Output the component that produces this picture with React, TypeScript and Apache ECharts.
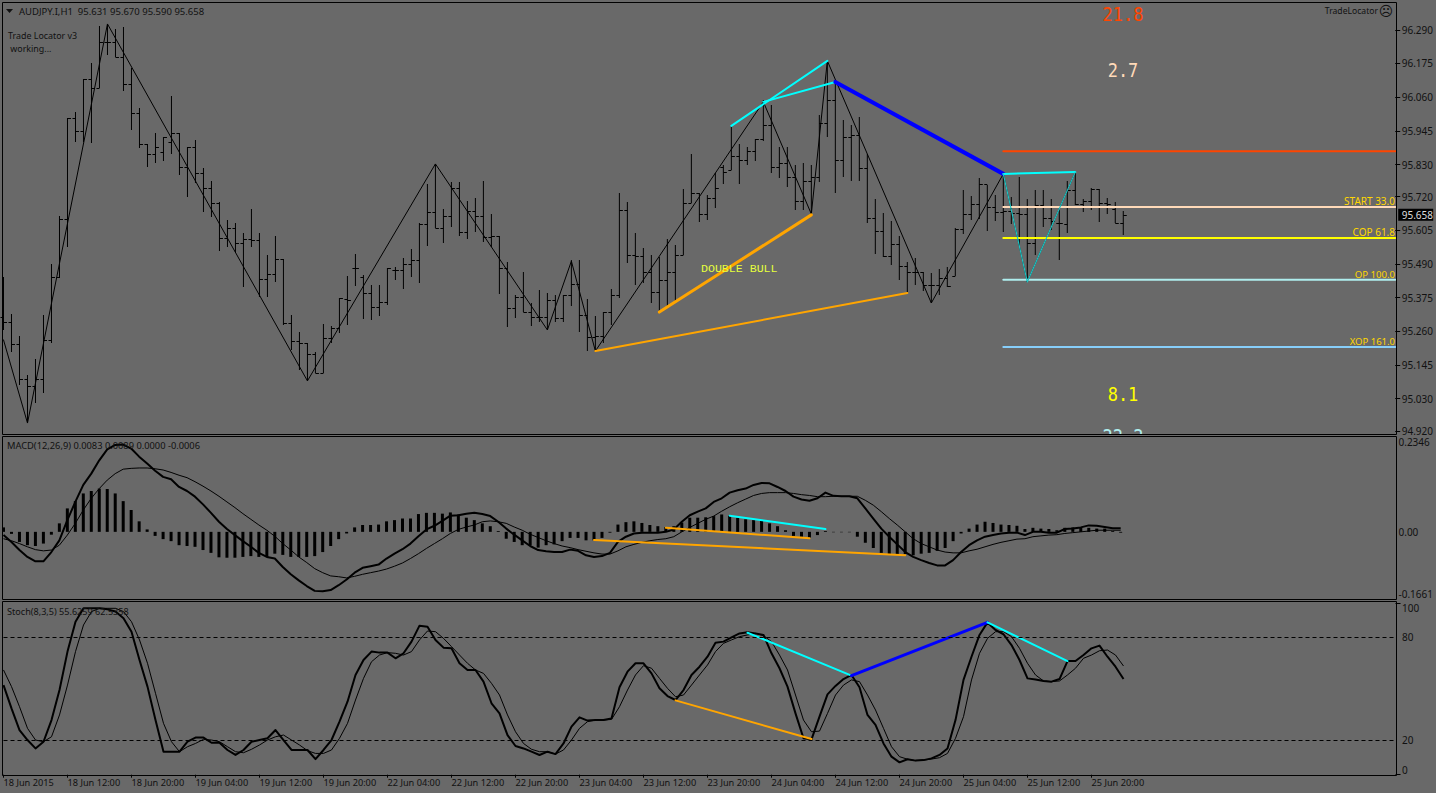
import React, { useEffect, useRef } from "react";
import * as echarts from "echarts";

const xTickLabels = ["18 Jun 2015","18 Jun 12:00","18 Jun 20:00","19 Jun 04:00","19 Jun 12:00","19 Jun 20:00","22 Jun 04:00","22 Jun 12:00","22 Jun 20:00","23 Jun 04:00","23 Jun 12:00","23 Jun 20:00","24 Jun 04:00","24 Jun 12:00","24 Jun 20:00","25 Jun 04:00","25 Jun 12:00","25 Jun 20:00"];
const priceTicks = [94.92,95.03,95.145,95.26,95.375,95.49,95.605,95.72,95.83,95.945,96.06,96.175,96.29];

const closes = [95.292,95.217,95.097,95.073,95.097,95.231,95.446,95.644,95.989,95.945,96.122,96.091,96.249,96.249,96.197,96.105,96.006,95.900,95.866,95.890,95.924,95.938,95.822,95.890,95.801,95.750,95.699,95.579,95.613,95.562,95.576,95.572,95.439,95.456,95.507,95.289,95.227,95.220,95.183,95.118,95.237,95.272,95.374,95.367,95.477,95.391,95.343,95.360,95.477,95.470,95.490,95.504,95.627,95.668,95.613,95.654,95.750,95.599,95.671,95.654,95.582,95.586,95.477,95.340,95.377,95.326,95.309,95.309,95.367,95.306,95.384,95.422,95.316,95.241,95.244,95.326,95.384,95.675,95.521,95.518,95.463,95.395,95.436,95.463,95.521,95.699,95.733,95.661,95.716,95.750,95.804,95.859,95.845,95.876,95.917,95.965,95.822,95.835,95.787,95.705,95.774,95.787,95.972,96.050,95.845,95.924,95.931,95.818,95.647,95.603,95.518,95.559,95.483,95.463,95.463,95.418,95.418,95.442,95.415,95.610,95.661,95.695,95.763,95.685,95.668,95.671,95.664,95.661,95.562,95.692,95.647,95.637,95.630,95.743,95.695,95.705,95.746,95.699,95.695,95.630,95.658];
const opens = [95.310,95.292,95.217,95.097,95.073,95.097,95.231,95.446,95.644,95.989,95.945,96.122,96.091,96.249,96.249,96.197,96.105,96.006,95.900,95.866,95.873,95.907,95.938,95.822,95.890,95.801,95.750,95.699,95.579,95.613,95.562,95.576,95.572,95.439,95.456,95.507,95.289,95.227,95.220,95.183,95.118,95.237,95.272,95.371,95.477,95.446,95.391,95.343,95.360,95.470,95.470,95.490,95.504,95.627,95.668,95.613,95.654,95.750,95.599,95.671,95.654,95.582,95.586,95.477,95.340,95.377,95.326,95.309,95.309,95.367,95.306,95.384,95.422,95.316,95.241,95.244,95.326,95.384,95.675,95.521,95.518,95.463,95.395,95.436,95.463,95.521,95.699,95.733,95.661,95.716,95.822,95.811,95.859,95.845,95.876,95.917,95.965,95.822,95.835,95.787,95.705,95.774,95.787,95.972,96.050,95.845,95.924,95.931,95.818,95.647,95.603,95.518,95.559,95.483,95.463,95.463,95.418,95.418,95.442,95.449,95.610,95.661,95.695,95.763,95.685,95.668,95.671,95.664,95.661,95.562,95.692,95.647,95.630,95.627,95.743,95.695,95.705,95.746,95.699,95.678,95.631];
const highs = [95.446,95.319,95.244,95.111,95.166,95.316,95.490,95.654,95.989,96.009,96.122,96.177,96.303,96.310,96.293,96.300,96.160,96.023,95.900,95.938,95.924,96.064,95.938,95.890,95.914,95.818,95.774,95.702,95.640,95.630,95.596,95.678,95.596,95.521,95.586,95.507,95.316,95.258,95.220,95.190,95.285,95.278,95.374,95.449,95.524,95.453,95.418,95.418,95.477,95.480,95.511,95.541,95.630,95.763,95.832,95.678,95.770,95.770,95.705,95.716,95.774,95.661,95.586,95.497,95.384,95.463,95.357,95.401,95.391,95.384,95.384,95.504,95.504,95.371,95.313,95.326,95.405,95.733,95.702,95.596,95.545,95.521,95.514,95.576,95.555,95.746,95.866,95.733,95.726,95.801,95.828,95.962,95.900,95.890,95.917,96.050,96.033,95.890,95.890,95.828,95.835,95.828,95.999,96.180,96.112,95.982,95.965,95.992,95.866,95.712,95.664,95.637,95.586,95.497,95.511,95.463,95.459,95.473,95.480,95.613,95.743,95.722,95.784,95.760,95.726,95.794,95.719,95.787,95.712,95.743,95.743,95.712,95.675,95.774,95.804,95.712,95.750,95.746,95.716,95.702,95.670];
const lows = [95.265,95.190,95.077,94.950,95.015,95.050,95.220,95.442,95.548,95.907,95.907,95.904,96.091,96.204,96.197,96.081,95.948,95.886,95.822,95.835,95.842,95.866,95.794,95.719,95.767,95.668,95.651,95.535,95.548,95.531,95.412,95.548,95.377,95.377,95.429,95.282,95.196,95.128,95.091,95.118,95.118,95.220,95.254,95.282,95.415,95.302,95.299,95.313,95.350,95.436,95.405,95.446,95.425,95.552,95.613,95.562,95.617,95.586,95.576,95.599,95.565,95.548,95.388,95.275,95.306,95.326,95.278,95.292,95.265,95.292,95.292,95.347,95.258,95.193,95.196,95.220,95.282,95.374,95.494,95.418,95.425,95.357,95.326,95.347,95.357,95.521,95.699,95.634,95.640,95.681,95.763,95.811,95.763,95.828,95.842,95.910,95.801,95.784,95.753,95.675,95.675,95.664,95.770,95.924,95.733,95.787,95.774,95.774,95.630,95.524,95.514,95.487,95.436,95.395,95.418,95.398,95.357,95.384,95.412,95.449,95.593,95.640,95.644,95.603,95.637,95.599,95.627,95.555,95.429,95.521,95.617,95.606,95.504,95.596,95.692,95.668,95.675,95.634,95.661,95.630,95.590];

const zigzag = [[0,95.231],[3,94.947],[13,96.310],[38,95.091],[54,95.832],[68,95.265],[71,95.500],[74,95.193],[95,96.044],[101,95.661],[103,96.184],[116,95.357],[125,95.798],[128,95.429],[134,95.804]];
const zigzagTeal = [[125,95.798],[128,95.429],[134,95.804]];
const orangeThick = [[82,95.326],[101,95.658]];
const orangeLong = [[74,95.193],[113,95.391]];
const cyanUpper = [[91,95.962],[103,96.184]];
const cyanLower = [[95,96.044],[104,96.112]];
const blueDown = [[104,96.112],[125,95.798]];
const cyanTop = [[125,95.798],[134,95.804]];
const levels = [
  { price: 95.875, color: "#FF4500" },
  { price: 95.685, color: "#FFDAB9" },
  { price: 95.579, color: "#FFFF00" },
  { price: 95.436, color: "#AFEEEE" },
  { price: 95.207, color: "#87CEFA" },
];

const macdHist = [.011,-.005,-.025,-.033,-.035,-.029,-.007,.021,.058,.076,.095,.101,.107,.106,.095,.076,.054,.026,.006,-.010,-.018,-.023,-.033,-.035,-.037,-.045,-.052,-.063,-.064,-.064,-.062,-.060,-.062,-.062,-.054,-.057,-.062,-.062,-.062,-.060,-.050,-.035,-.018,-.004,.011,.017,.017,.018,.026,.029,.033,.033,.044,.047,.047,.045,.048,.043,.035,.029,.021,.014,.002,-.017,-.025,-.033,-.033,-.039,-.033,-.031,-.023,-.015,-.015,-.021,-.021,-.015,-.002,.018,.024,.026,.022,.017,.014,.012,.014,.023,.035,.035,.036,.039,.043,.040,.035,.031,.029,.027,.021,.014,.004,-.010,-.012,-.014,-.008,.002,-.001,-.001,-.001,-.012,-.027,-.040,-.052,-.055,-.055,-.055,-.058,-.054,-.052,-.047,-.040,-.023,-.004,.008,.018,.025,.022,.018,.017,.015,.007,.010,.008,.007,.004,.010,.011,.010,.010,.008,.008,.002,-.002];
const macdLine = [-.008,-.025,-.045,-.062,-.073,-.073,-.050,-.021,.029,.074,.116,.144,.177,.204,.215,.216,.206,.186,.169,.151,.136,.130,.111,.101,.087,.068,.047,.025,.007,-.008,-.023,-.037,-.052,-.062,-.066,-.087,-.105,-.120,-.134,-.146,-.147,-.144,-.132,-.118,-.101,-.089,-.085,-.081,-.066,-.054,-.043,-.029,-.011,.006,.015,.027,.040,.041,.045,.047,.044,.039,.025,.008,-.007,-.021,-.035,-.045,-.048,-.050,-.050,-.044,-.047,-.058,-.062,-.060,-.052,-.025,-.012,-.004,-.002,-.002,-.002,0,.006,.025,.041,.050,.058,.074,.083,.097,.103,.107,.116,.121,.120,.111,.101,.087,.080,.077,.083,.097,.089,.088,.088,.083,.058,.033,.008,-.012,-.031,-.050,-.062,-.070,-.077,-.083,-.083,-.070,-.050,-.033,-.021,-.012,-.008,-.004,-.002,-.002,-.008,0,0,-.002,-.002,.007,.008,.011,.016,.015,.012,.009,.009];
const macdSignal = [-.017,-.022,-.029,-.037,-.044,-.047,-.045,-.033,-.008,.021,.054,.083,.107,.128,.144,.155,.157,.158,.158,.156,.153,.147,.140,.134,.124,.113,.101,.088,.074,.060,.045,.031,.017,.004,-.011,-.029,-.045,-.062,-.076,-.091,-.101,-.109,-.111,-.114,-.110,-.105,-.101,-.097,-.092,-.085,-.077,-.066,-.054,-.041,-.029,-.017,-.004,.006,.012,.017,.025,.027,.025,.021,.012,.004,-.006,-.014,-.022,-.029,-.035,-.039,-.044,-.048,-.052,-.055,-.055,-.047,-.037,-.031,-.026,-.022,-.019,-.017,-.012,0,.011,.021,.031,.039,.051,.062,.072,.081,.090,.095,.097,.097,.097,.095,.092,.090,.087,.087,.088,.088,.088,.088,.078,.066,.050,.033,.017,0,-.017,-.029,-.037,-.045,-.050,-.052,-.052,-.047,-.043,-.037,-.031,-.026,-.022,-.018,-.017,-.012,-.010,-.008,-.007,-.004,-.002,0,.002,.004,.004,.004,.004];
const macdOrangeLong = [[74,-.020],[113,-.058]];
const macdOrangeShort = [[83,.010],[101,-.016]];
const macdCyan = [[91,.040],[103,.007]];
const macdTicks = [-0.1661,0,0.2346];

const stochMain = [52.2,38.6,26.0,20.2,15.3,19.2,31.8,49.3,71.7,89.1,96.9,96.9,96.9,96.3,95.0,91.1,83.3,66.8,51.3,31.8,13.4,13.4,13.4,19.2,21.6,21.6,18.6,18.6,14.4,11.5,14.4,19.2,20.2,21.2,26.0,20.2,14.4,14.4,14.4,9.1,14.4,20.2,30.9,42.5,58.1,66.8,71.7,71.1,71.1,67.8,70.7,77.5,86.8,86.2,78.5,74.0,73.6,64.9,61.0,61.0,54.2,41.6,35.7,23.1,16.7,15.3,13.4,11.5,13.4,12.0,18.2,28.0,33.4,31.5,31.8,31.8,32.8,50.9,60.0,64.9,64.9,59.0,50.3,45.8,43.5,49.3,58.1,62.9,68.7,76.9,77.5,80.0,82.3,82.9,82.3,81.4,70.7,62.0,51.3,35.7,21.2,20.6,33.8,46.8,51.7,55.7,58.1,50.9,34.8,29.0,18.2,10.5,7.2,9.0,8.2,8.5,9.5,11.5,15.3,31.8,55.2,68.7,81.4,88.7,84.3,81.8,75.5,66.8,56.1,55.5,54.6,54.2,55.7,66.2,66.2,69.7,73.6,75.2,68.7,62.9,55.7];
const stochSignal = [61.0,51.3,39.6,27.0,20.2,19.2,22.1,34.8,52.2,71.7,87.2,95.0,96.9,96.9,96.9,95.0,89.1,78.5,64.9,47.4,29.9,19.2,13.4,16.3,18.2,20.6,20.2,19.2,16.3,13.4,12.8,14.8,17.3,20.2,22.1,23.1,20.2,17.3,14.0,12.4,12.4,14.4,21.2,29.9,43.5,56.1,65.8,69.7,71.1,70.7,69.7,71.7,78.5,83.7,83.3,79.4,74.6,69.7,64.9,61.0,59.0,53.2,46.4,34.8,25.0,18.2,14.8,13.4,13.4,12.0,14.4,20.2,27.0,30.9,31.8,31.8,32.2,39.6,49.3,58.1,63.5,62.0,56.1,50.3,45.4,46.4,52.2,58.1,63.9,71.7,76.5,78.5,80.4,81.4,82.3,81.0,77.5,69.7,61.0,46.4,31.8,25.0,25.4,35.7,46.4,52.2,55.2,54.2,46.4,37.7,27.0,16.3,10.5,9.0,8.2,8.5,9.1,9.9,12.4,21.2,33.8,55.2,70.7,79.4,83.3,83.3,80.4,73.6,64.9,58.1,54.6,54.2,54.6,58.1,62.0,67.8,69.7,72.2,72.6,69.7,63.3];
const stochCyanA = [[93,82.7],[106,57.7]];
const stochBlue = [[106,57.7],[123,88.7]];
const stochCyanB = [[123,88.7],[133,66.2]];
const stochOrange = [[84,43.3],[101,20.8]];
const stochTicks = [0,20,80,100];
const lastPrice = 95.658;

const BG = "#696969";
const UI = '"Noto Sans", "Open Sans", sans-serif';
const MONO = '"DejaVu Sans Mono"';
const INK = "#111";
const categories = Array.from({ length: 175 }, (_, i) => (i % 8 === 0 && i / 8 < xTickLabels.length ? xTickLabels[i / 8] : ""));
const SLOTS = 174;

function seg(points: number[][], color: string, width: number, grid: number, z = 4) {
  return { type: "line", xAxisIndex: grid, yAxisIndex: grid, data: points, symbol: "none", silent: true, z, clip: false, lineStyle: { color, width, cap: "round", join: "round" } };
}
function full(values: number[], width: number, grid: number, extra: object = {}) {
  return { type: "line", xAxisIndex: grid, yAxisIndex: grid, data: values, symbol: "none", silent: true, z: 3, clip: false, lineStyle: { color: "#000", width, join: "round" }, ...extra };
}
function frame(y1: number, y2: number) {
  return { type: "rect", z: 30, silent: true, shape: { x: 2.5, y: y1, width: 1394, height: y2 - y1 }, style: { fill: "none", stroke: "#000", lineWidth: 1 } };
}
function label(text: string, x: number, y: number, fill = INK, font = `9.2px ${UI}`, align = "left", z = 20) {
  return { type: "text", z, silent: true, x, y, style: { text, x: 0, y: 0, fill, font, align, verticalAlign: "middle" } };
}
function bigLabel(text: string, y: number, fill: string) {
  return { ...label(text, 1123, y, fill, `17px ${MONO}`, "center", 20), scaleY: 1.12 };
}

export default function App() {
  const ref = useRef<HTMLDivElement>(null);
  useEffect(() => {
    document.body.style.margin = "0";
    document.body.style.background = BG;
    const chart = echarts.init(ref.current!, null, { renderer: "svg" });
    const xAxis = (grid: number, show: boolean) => ({
      type: "category", gridIndex: grid, data: categories, boundaryGap: false,
      axisLine: { show: false },
      axisTick: show ? { show: true, length: 3, lineStyle: { color: "#000" }, interval: (i: number) => i % 8 === 0 && i / 8 < xTickLabels.length } : { show: false },
      axisLabel: show ? { show: true, color: INK, fontFamily: UI, fontSize: 9.2, align: "left", margin: 3.5, interval: (i: number) => i % 8 === 0 && i / 8 < xTickLabels.length, hideOverlap: false } : { show: false },
      splitLine: { show: false },
    });
    const yAxisBase = { type: "value", position: "right", scale: false, splitLine: { show: false }, axisLine: { show: false } };
    const option: any = {
      animation: false,
      backgroundColor: BG,
      grid: [
        { left: 3.5, top: 3, width: SLOTS * 8, height: 431 },
        { left: 3.5, top: 437, width: SLOTS * 8, height: 162 },
        { left: 3.5, top: 603, width: SLOTS * 8, height: 171.7 },
      ],
      xAxis: [xAxis(0, false), xAxis(1, false), xAxis(2, true)],
      yAxis: [
        { ...yAxisBase, gridIndex: 0, min: 94.9096, max: 96.3816,
          axisTick: { show: true, length: 5, customValues: priceTicks, lineStyle: { color: "#000" } },
          axisLabel: { color: INK, fontFamily: UI, fontSize: 10, margin: 6.5, customValues: priceTicks, formatter: (v: number) => v.toFixed(3) } },
        { ...yAxisBase, gridIndex: 1, min: -0.1661, max: 0.2346,
          axisTick: { show: false },
          axisLabel: { color: INK, fontFamily: UI, fontSize: 10, margin: 6.5, customValues: macdTicks, verticalAlignMinLabel: "bottom", verticalAlignMaxLabel: "top", formatter: (v: number) => (v === 0 ? "0.00" : String(v)) } },
        { ...yAxisBase, gridIndex: 2, min: 0, max: 100,
          axisTick: { show: true, length: 5, customValues: [0, 100], lineStyle: { color: "#000" } },
          axisLabel: { color: INK, fontFamily: UI, fontSize: 10, margin: 6.5, customValues: stochTicks, verticalAlignMinLabel: "bottom", verticalAlignMaxLabel: "top" } },
      ],
      series: [
        {
          type: "custom", xAxisIndex: 0, yAxisIndex: 0, silent: true, clip: false, z: 2,
          data: closes.map((c, i) => [i, opens[i], highs[i], lows[i], c]),
          encode: { x: 0, y: [1, 2, 3, 4] },
          renderItem: (_p: any, api: any) => {
            const i = api.value(0);
            const snap = (v: number) => Math.round(v) + 0.5;
            const x = api.coord([i, api.value(1)])[0];
            const yo = snap(api.coord([i, api.value(1)])[1]);
            const yh = Math.round(api.coord([i, api.value(2)])[1]);
            const yl = Math.round(api.coord([i, api.value(3)])[1]);
            const yc = snap(api.coord([i, api.value(4)])[1]);
            const s = { stroke: "#000", lineWidth: 1 };
            return { type: "group", children: [
              { type: "line", shape: { x1: x, y1: yh, x2: x, y2: yl }, style: s },
              { type: "line", shape: { x1: x - 3, y1: yo, x2: x, y2: yo }, style: s },
              { type: "line", shape: { x1: x, y1: yc, x2: x + 3.5, y2: yc }, style: s },
            ] };
          },
        },
        seg(zigzag, "#000", 1, 0, 3),
        seg(zigzagTeal, "#1FC4C4", 1.2, 0, 6),
        seg(orangeThick, "#FFA500", 3, 0),
        seg(orangeLong, "#FFA500", 2, 0),
        seg(cyanUpper, "#00FFFF", 2, 0),
        seg(cyanLower, "#00FFFF", 2, 0),
        seg(blueDown, "#0000FF", 4, 0),
        seg(cyanTop, "#00FFFF", 2, 0),
        ...levels.map((l) => seg([[125, l.price], [SLOTS, l.price]], l.color, 2, 0)),
        {
          type: "custom", xAxisIndex: 0, yAxisIndex: 0, silent: true, clip: false, z: 25,
          data: [[140, lastPrice]],
          encode: { x: 0, y: 1 },
          renderItem: (p: any, api: any) => {
            const y = api.coord([api.value(0), api.value(1)])[1];
            const right = p.coordSys.x + p.coordSys.width;
            return { type: "group", children: [
              { type: "rect", shape: { x: right + 3, y: y - 6, width: 35, height: 12 }, style: { fill: "#000" } },
              { type: "text", style: { text: lastPrice.toFixed(3), x: right + 6.5, y, fill: "#ddd", font: `10px ${UI}`, verticalAlign: "middle", align: "left" } },
            ] };
          },
        },
        { type: "bar", xAxisIndex: 1, yAxisIndex: 1, data: macdHist, barWidth: 3, silent: true, z: 2, clip: false, itemStyle: { color: "#000" } },
        full(macdSignal, 1, 1),
        full(macdLine, 2, 1),
        seg(macdOrangeLong, "#FFA500", 2, 1),
        seg(macdOrangeShort, "#FFA500", 2, 1),
        seg(macdCyan, "#00FFFF", 2, 1),
        full(stochSignal, 1, 2, {
          markLine: { silent: true, symbol: "none", animation: false, label: { show: false }, lineStyle: { color: "#000", type: [4, 3], width: 1 }, data: [{ yAxis: 80 }, { yAxis: 20 }] },
        }),
        full(stochMain, 2, 2),
        seg(stochCyanA, "#00FFFF", 2, 2),
        seg(stochBlue, "#0000FF", 3, 2),
        seg(stochCyanB, "#00FFFF", 2, 2),
        seg(stochOrange, "#FFA500", 2, 2),
      ],
      graphic: [
        { type: "polygon", z: 20, silent: true, shape: { points: [[6, 9], [13, 9], [9.5, 13]] }, style: { fill: "#111" } },
        label("AUDJPY.I,H1  95.631 95.670 95.590 95.658", 19, 11, INK, `9.5px ${UI}`),
        label("Trade Locator v3", 8, 35, INK, `8.9px ${UI}`),
        label(" working...", 8, 48, INK, `8.9px ${UI}`),
        label("TradeLocator", 1378, 11, INK, `8.6px ${UI}`, "right"),
        label("\u2639", 1386, 11, INK, `14px "DejaVu Sans"`, "center"),
        label("DOUBLE BULL", 701, 268, "#E6FF3C", `11.6px "Liberation Mono"`),
        label("START 33.0", 1395, 201, "#FFD700", `10px ${UI}`, "right"),
        label("COP 61.8", 1395, 232, "#FFD700", `10px ${UI}`, "right"),
        label("OP 100.0", 1395, 274, "#FFD700", `9.6px ${UI}`, "right"),
        label("XOP 161.0", 1395, 341, "#FFD700", `9.5px ${UI}`, "right"),
        bigLabel("21.8", 14, "#FF4500"),
        bigLabel("2.7", 70, "#FFDAB9"),
        bigLabel("8.1", 394, "#FFFF00"),
        bigLabel("22.2", 436.5, "#AFEEEE"),
        { type: "rect", z: 25, silent: true, shape: { x: 1095, y: 435, width: 56, height: 14 }, style: { fill: BG } },
        label("MACD(12,26,9) 0.0083 0.0089 0.0000 -0.0006", 7, 445, INK, `9.3px ${UI}`, "left", 40),
        label("Stoch(8,3,5) 55.6259 62.5358", 7, 611, INK, `9.1px ${UI}`, "left", 40),
        frame(2.5, 434.5),
        frame(436.5, 599.5),
        frame(601.5, 775.5),
      ],
    };
    chart.setOption(option);
    return () => chart.dispose();
  }, []);
  return <div ref={ref} style={{ position: "absolute", left: 0, top: 0, width: 1436, height: 793 }} />;
}
